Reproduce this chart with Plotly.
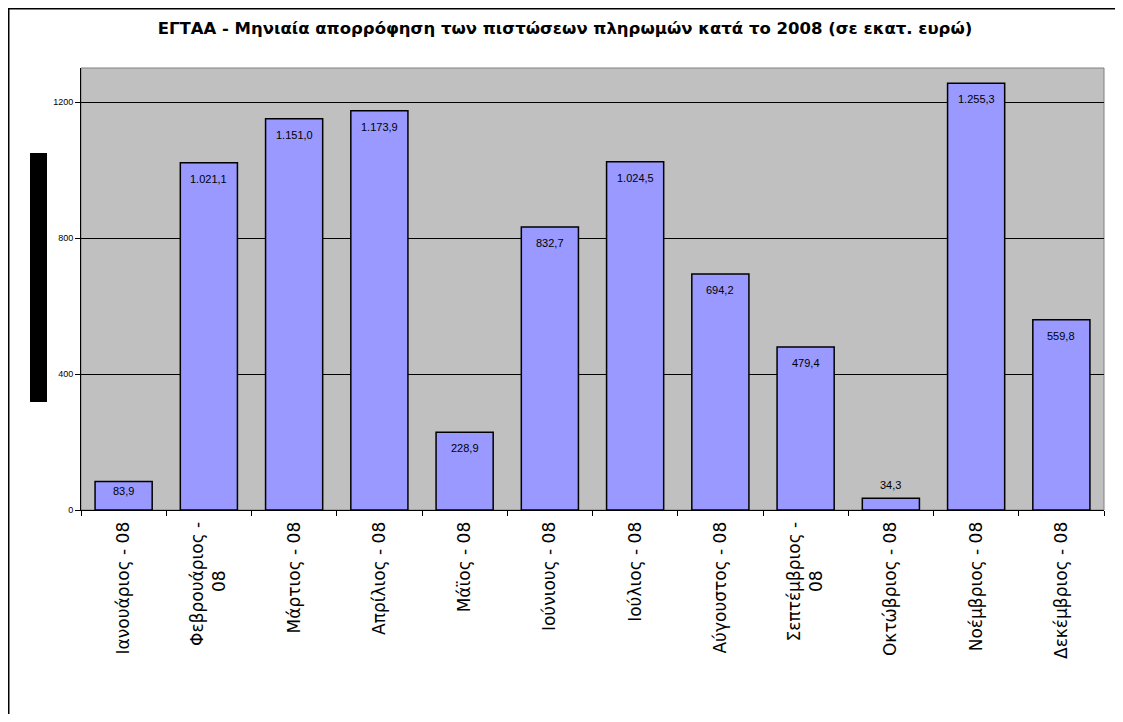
import plotly.graph_objects as go

months = ["Ιανουάριος - 08", "Φεβρουάριος -<br>08", "Μάρτιος - 08", "Απρίλιος - 08",
          "Μάϊος - 08", "Ιούνιους - 08", "Ιούλιος - 08", "Αύγουστος - 08",
          "Σεπτέμβριος -<br>08", "Οκτώβριος - 08", "Νοέμβριος - 08", "Δεκέμβριος - 08"]
values = [83.9, 1021.1, 1151.0, 1173.9, 228.9, 832.7, 1024.5, 694.2, 479.4, 34.3, 1255.3, 559.8]
y_ticks = [0, 400, 800, 1200]


def fmt(v):
    s = f"{v:,.1f}"
    return s.replace(",", "X").replace(".", ",").replace("X", ".")


# centre the second line of wrapped labels (rotated text is end-anchored)
tick_text = [m + "&nbsp;" * 9 if "<br>" in m else m for m in months]

fig = go.Figure()
fig.add_trace(go.Bar(
    x=months, y=values,
    marker=dict(color="#9999FF", line=dict(color="black", width=1.5)),
    hoverinfo="skip",
))

for m, v in zip(months, values):
    if v > 150:
        shift = -16
    elif v > 50:
        shift = -10
    else:
        shift = 13
    fig.add_annotation(x=m, y=v, text=fmt(v), showarrow=False, yshift=shift,
                       font=dict(family="Liberation Sans, Arial", size=11, color="black"))

# figure is placed at (8,8) in the page by the default body margin
FW, FH = 1107, 706
L, R, T, B = 73, 11, 60, 204
W = FW - L - R
H = FH - T - B

fig.update_layout(
    width=FW, height=FH,
    margin=dict(l=L, r=R, t=T, b=B, autoexpand=False),
    paper_bgcolor="white", plot_bgcolor="#C0C0C0",
    bargap=0.33, showlegend=False,
    title=dict(text="<b>ΕΓΤΑΑ - Μηνιαία απορρόφηση των πιστώσεων πληρωμών κατά το 2008 (σε εκατ. ευρώ)</b>",
               x=557 / FW, xanchor="center", y=1 - 20 / FH, yanchor="middle",
               font=dict(family="DejaVu Sans", size=16.5, color="black")),
    xaxis=dict(tickangle=-90, tickson="boundaries", ticks="outside", ticklen=5,
               tickcolor="black", showline=True, linecolor="black", linewidth=1,
               tickmode="array", tickvals=months, ticktext=tick_text,
               tickfont=dict(family="DejaVu Sans", size=17, color="black"),
               ticklabelstandoff=4,
               showgrid=False, fixedrange=True),
    yaxis=dict(range=[0, 1300], tickvals=y_ticks, ticks="outside", ticklen=5,
               tickcolor="black", showline=True, linecolor="black", linewidth=1,
               showgrid=True, gridcolor="black", gridwidth=1, zeroline=False,
               tickfont=dict(family="Liberation Sans, Arial", size=9, color="black"),
               fixedrange=True),
)

shapes = [
    # plot-area border (gray top & right)
    dict(type="rect", xref="paper", yref="paper", x0=0, x1=1, y0=0, y1=1,
         line=dict(color="#808080", width=1), layer="below"),
    # outer chart border
    dict(type="rect", xref="paper", yref="paper",
         x0=(0.75 - L) / W, x1=1.2, y0=-0.6, y1=(T + H - 0.75) / H,
         line=dict(color="black", width=1.5)),
    # obscured axis title block
    dict(type="rect", xref="paper", yref="paper",
         x0=(22 - L) / W, x1=(39 - L) / W,
         y0=(T + H - 394) / H, y1=(T + H - 145) / H,
         fillcolor="black", line=dict(width=0)),
]
fig.update_layout(shapes=shapes)

fig.write_html("out.html")
